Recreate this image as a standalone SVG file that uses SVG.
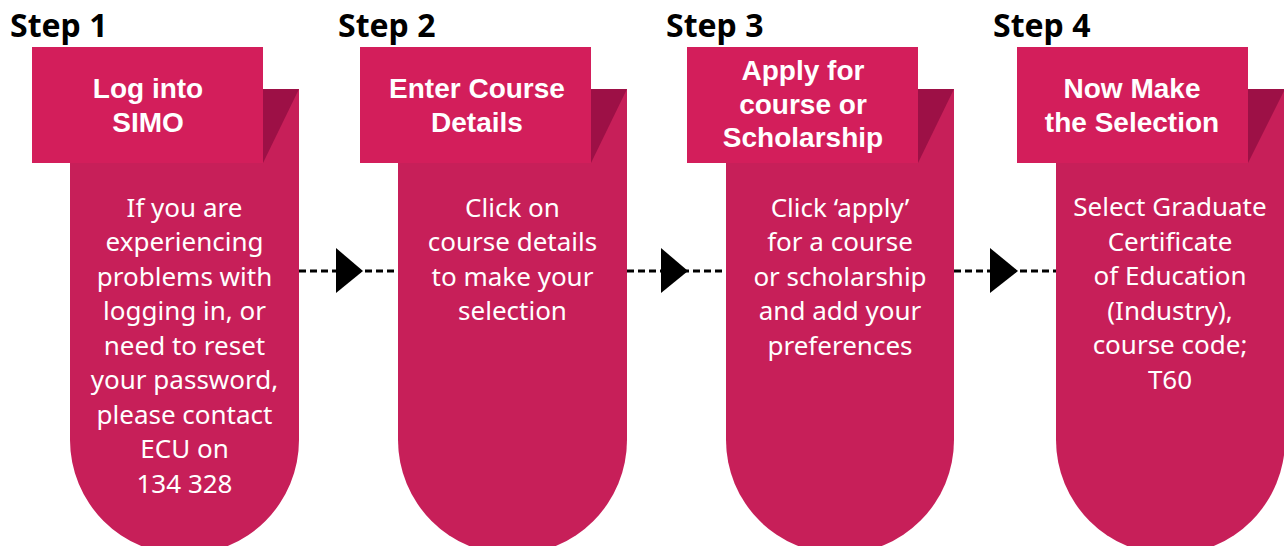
<svg xmlns="http://www.w3.org/2000/svg" width="1284" height="546" viewBox="0 0 1284 546">
<style>
.step{font-family:"Noto Sans","Liberation Sans",sans-serif;font-weight:700;font-size:32px;fill:#000}
.head{fill:#d31e5b}
.body{fill:#c71f59}
.fold{fill:#9d1046}
.ht{font-family:"Liberation Sans",Arial,sans-serif;font-weight:700;font-size:28px;fill:#fff;text-anchor:middle}
.bt{font-family:"Noto Sans","Liberation Sans",sans-serif;font-weight:400;font-size:26px;fill:#fff;text-anchor:middle}
.dash{stroke:#000;stroke-width:3;stroke-dasharray:7 4;fill:none}
.tri{fill:#000}
</style>
<rect width="1284" height="546" fill="#fff"/>
<g id="connectors">
<line class="dash" x1="299" y1="271" x2="398" y2="271"/>
<polygon class="tri" points="336,248 363,271 336,293"/>
<line class="dash" x1="627" y1="271" x2="726" y2="271"/>
<polygon class="tri" points="661,248 688,271 661,293"/>
<line class="dash" x1="954" y1="271" x2="1056" y2="271"/>
<polygon class="tri" points="990,248 1018,271 990,293"/>
</g>
<g id="step1">
<text class="step" x="10" y="37">Step 1</text>
<path class="body" d="M70,89 H299 V440 A114.5,114.5 0 0 1 70,440 Z"/>
<polygon class="fold" points="263,89 299,89 263,163"/>
<rect class="head" x="32" y="47" width="231" height="116"/>
<text class="ht" x="148" y="98">Log into</text>
<text class="ht" x="148" y="132">SIMO</text>
<text class="bt" x="184.5" y="217">If you are</text>
<text class="bt" x="184.5" y="251">experiencing</text>
<text class="bt" x="184.5" y="286">problems with</text>
<text class="bt" x="184.5" y="320">logging in, or</text>
<text class="bt" x="184.5" y="355">need to reset</text>
<text class="bt" x="184.5" y="389">your password,</text>
<text class="bt" x="184.5" y="424">please contact</text>
<text class="bt" x="184.5" y="458">ECU on</text>
<text class="bt" x="184.5" y="493">134 328</text>
</g>
<g id="step2">
<text class="step" x="338" y="37">Step 2</text>
<path class="body" d="M398,89 H627 V440 A114.5,114.5 0 0 1 398,440 Z"/>
<polygon class="fold" points="591,89 627,89 591,163"/>
<rect class="head" x="360" y="47" width="231" height="116"/>
<text class="ht" x="477" y="98">Enter Course</text>
<text class="ht" x="477" y="132">Details</text>
<text class="bt" x="512.5" y="217">Click on</text>
<text class="bt" x="512.5" y="251">course details</text>
<text class="bt" x="512.5" y="286">to make your</text>
<text class="bt" x="512.5" y="320">selection</text>
</g>
<g id="step3">
<text class="step" x="666" y="37">Step 3</text>
<path class="body" d="M726,89 H954 V440 A114,114 0 0 1 726,440 Z"/>
<polygon class="fold" points="918,89 954,89 918,163"/>
<rect class="head" x="687" y="47" width="231" height="116"/>
<text class="ht" x="803" y="80">Apply for</text>
<text class="ht" x="803" y="114">course or</text>
<text class="ht" x="803" y="147">Scholarship</text>
<text class="bt" x="840" y="217">Click ‘apply’</text>
<text class="bt" x="840" y="251">for a course</text>
<text class="bt" x="840" y="286">or scholarship</text>
<text class="bt" x="840" y="320">and add your</text>
<text class="bt" x="840" y="355">preferences</text>
</g>
<g id="step4">
<text class="step" x="993" y="37">Step 4</text>
<path class="body" d="M1056,89 H1285 V440 A114.5,114.5 0 0 1 1056,440 Z"/>
<polygon class="fold" points="1248,89 1285,89 1248,163"/>
<rect class="head" x="1017" y="47" width="231" height="116"/>
<text class="ht" x="1132" y="98">Now Make</text>
<text class="ht" x="1132" y="132">the Selection</text>
<text class="bt" x="1170" y="216">Select Graduate</text>
<text class="bt" x="1170" y="251">Certificate</text>
<text class="bt" x="1170" y="285">of Education</text>
<text class="bt" x="1170" y="320">(Industry),</text>
<text class="bt" x="1170" y="354">course code;</text>
<text class="bt" x="1170" y="389">T60</text>
</g>
</svg>
